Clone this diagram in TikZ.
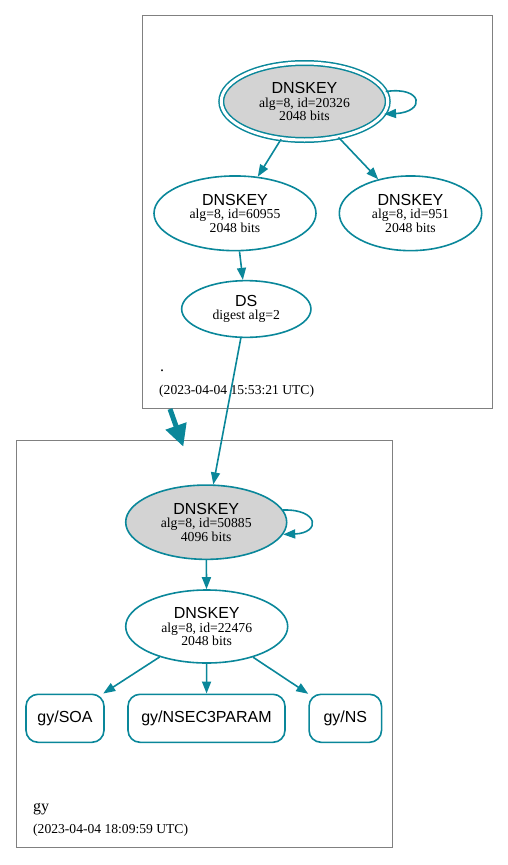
\documentclass[tikz,border=0pt]{standalone}
\usepackage{fontspec}
\setmainfont{Liberation Serif}
\setsansfont{Liberation Sans}
\usetikzlibrary{shapes.geometric,arrows.meta,calc}
\definecolor{sec}{HTML}{0A879A}
\definecolor{kfill}{HTML}{D3D3D3}
\definecolor{clus}{HTML}{808080}
\newcommand\keyhead[1]{{\sffamily\fontsize{16}{13.5}\selectfont #1}}
\begin{document}
\begin{tikzpicture}[x=1pt,y=-1pt,
  key/.style={ellipse, draw=sec, line width=1.6pt, inner sep=0pt, align=center,
    font=\fontsize{13.7}{13.5}\selectfont},
  rrbox/.style={rectangle, rounded corners=12pt, draw=sec, line width=1.6pt, inner sep=0pt,
    minimum height=48pt, font=\sffamily\fontsize{16}{16}\selectfont},
  cluster/.style={rectangle, draw=clus, line width=0.9pt, inner sep=0pt},
  arr/.style={draw=sec, line width=1.6pt, -{Triangle[length=12pt,width=9pt]}},
  lbl/.style={inner sep=0pt, anchor=base west},
]
\useasboundingbox (0,0) rectangle (508,865);

% clusters
\node[cluster, minimum width=349.3pt, minimum height=393pt] (c1) at (317.35,212.2) {};
\node[cluster, minimum width=376pt, minimum height=406.6pt] (c2) at (204,644) {};

% top zone
\node[key, fill=kfill, double=white, double distance=3pt, line width=1.5pt,
  minimum width=166.5pt, minimum height=77pt] (k0) at (304.5,101.5)
  {\keyhead{DNSKEY}\\alg=8, id=20326\\2048 bits};
\node[key, minimum width=162pt, minimum height=74.7pt] (k1) at (235,213.3)
  {\keyhead{DNSKEY}\\alg=8, id=60955\\2048 bits};
\node[key, minimum width=142.4pt, minimum height=74.7pt] (k2) at (410.5,213.3)
  {\keyhead{DNSKEY}\\alg=8, id=951\\2048 bits};
\node[key, minimum width=129.3pt, minimum height=56.7pt] (ds) at (246.3,309)
  {\keyhead{DS}\\digest alg=2};

\node[lbl, font=\fontsize{16}{16}\selectfont] (dot) at (160,371) {.};
\node[lbl, font=\fontsize{13.6}{14}\selectfont] (t1) at (159,394) {(2023-04-04 15:53:21 UTC)};

% bottom zone
\node[key, fill=kfill, minimum width=161pt, minimum height=74.3pt] (k3) at (206.2,522.2)
  {\keyhead{DNSKEY}\\alg=8, id=50885\\4096 bits};
\node[key, minimum width=162pt, minimum height=73pt] (k4) at (206.7,626.5)
  {\keyhead{DNSKEY}\\alg=8, id=22476\\2048 bits};

\node[rrbox, minimum width=78pt] (soa) at (65,718.3) {gy/SOA};
\node[rrbox, minimum width=157pt] (nsec) at (206.5,718.3) {gy/NSEC3PARAM};
\node[rrbox, minimum width=72.5pt] (ns) at (345.3,718.3) {gy/NS};

\node[lbl, font=\fontsize{16}{16}\selectfont] (gy) at (33,811) {gy};
\node[lbl, font=\fontsize{13.6}{14}\selectfont] (t2) at (33,833) {(2023-04-04 18:09:59 UTC)};

% edges
\draw[arr] (k0.7) .. controls (423,86) and (426,112) .. (k0.-9);
\draw[arr] (k0) -- (k1);
\draw[arr] (k0) -- (k2);
\draw[arr] (k1) -- (ds);
\draw[arr] (ds) -- (k3);
\draw[arr] (k3.9) .. controls (319,509) and (321,533) .. (k3.-9);
\draw[arr] (k3) -- (k4);
\draw[arr] (k4) -- (soa);
\draw[arr] (k4) -- (nsec);
\draw[arr] (k4) -- (ns);

% delegation arrow
\coordinate (da) at (170,409);
\coordinate (db) at (183.3,446.7);
\draw[draw=sec, fill=sec, line width=5pt, -{Triangle[length=22pt,width=21pt]}] (da) -- (db);
\end{tikzpicture}
\end{document}
